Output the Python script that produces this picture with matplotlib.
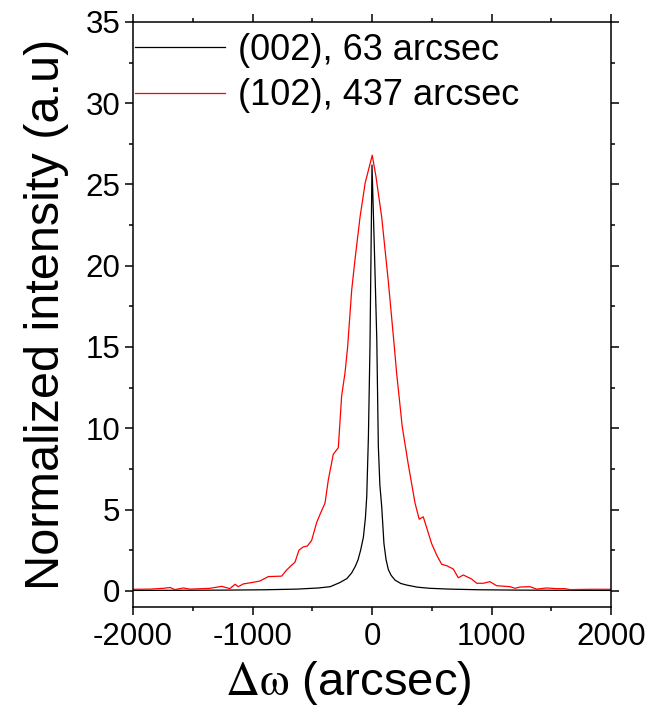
import matplotlib
matplotlib.use("Agg")
import matplotlib.pyplot as plt
from matplotlib.ticker import MultipleLocator

plt.rcParams['font.family'] = ['Liberation Sans', 'DejaVu Sans']
plt.rcParams['mathtext.fontset'] = 'stix'
plt.rcParams['axes.unicode_minus'] = False

# (002) rocking curve
x002 = [-2000, -1500, -1200, -900, -630, -450, -350, -270, -210, -170, -140, -117, -95, -72,
        -55, -44, -30, -17, 0, 20, 40, 53, 66, 81, 100, 118, 137, 160, 192, 240, 290, 380,
        485, 650, 900, 1200, 1500, 2000]
y002 = [0.02, 0.03, 0.04, 0.06, 0.1, 0.17, 0.25, 0.5, 0.75, 1.1, 1.5, 1.9, 2.5, 3.3,
        4.5, 5.8, 9.5, 15, 26.2, 21, 15.5, 8.9, 6.5, 5.2, 2.9, 1.9, 1.3, 0.95, 0.66, 0.45, 0.35, 0.22,
        0.15, 0.1, 0.06, 0.04, 0.03, 0.02]

# (102) rocking curve
x102 = [-2000, -1858, -1746, -1690, -1649, -1579, -1523, -1356, -1258, -1189, -1146, -1119,
        -1077, -994, -938, -868, -756, -714, -672, -645, -611, -575, -541, -505, -463, -435,
        -393, -366, -324, -282, -254, -226, -204, -170, -142, -100, -57, 2, 33, 81, 137, 187,
        206, 253, 303, 360, 395, 429, 499, 541, 583, 625, 680, 722, 764, 834, 876, 931, 987,
        1043, 1155, 1197, 1239, 1322, 1378, 1462, 1545, 1615, 1657, 1824, 2000]
y102 = [0.09, 0.1, 0.15, 0.2, 0.07, 0.17, 0.1, 0.15, 0.27, 0.13, 0.4, 0.25,
        0.42, 0.52, 0.6, 0.87, 0.9, 1.28, 1.58, 1.75, 2.5, 2.7, 2.75, 3.1, 4.2, 4.7,
        5.4, 6.8, 8.4, 8.8, 12.0, 13.4, 15.0, 18.5, 20.4, 23.0, 25.1, 26.8, 25.5, 23.0, 19.0, 15.0,
        13.4, 10.1, 7.8, 5.4, 4.4, 4.55, 2.9, 2.2, 1.63, 1.54, 1.34, 0.8, 0.97, 0.72, 0.46, 0.46, 0.56,
        0.31, 0.25, 0.15, 0.23, 0.25, 0.1, 0.17, 0.13, 0.13, 0.07, 0.09, 0.09]

labels = ["(002), 63 arcsec", "(102), 437 arcsec"]

fig = plt.figure(figsize=(6.52, 7.11), dpi=100)
ax = fig.add_axes([133/652, 1 - 607/711, 478/652, 585/711])

ax.plot(x002, y002, color='black', lw=0.9, label=labels[0])
ax.plot(x102, y102, color='red', lw=0.9, label=labels[1])

ax.set_xlim(-2000, 2000)
ax.set_ylim(-1, 35)
ax.xaxis.set_major_locator(MultipleLocator(1000))
ax.xaxis.set_minor_locator(MultipleLocator(500))
ax.yaxis.set_major_locator(MultipleLocator(5))
ax.yaxis.set_minor_locator(MultipleLocator(2.5))
ax.tick_params(which='both', direction='out', top=True, right=True, width=1.1,
               labelsize=22.5, pad=3)
ax.tick_params(axis='x', pad=5)
ax.tick_params(which='major', length=6)
ax.tick_params(which='minor', length=3)
for s in ax.spines.values():
    s.set_linewidth(1.1)

ax.set_xlabel(r'$\mathrm{\Delta\omega}$ (arcsec)', fontsize=34, labelpad=5)
ax.xaxis.label.set_x(0.45)
ax.set_ylabel('Normalized intensity (a.u)', fontsize=35, labelpad=12)

leg = ax.legend(loc='upper left', bbox_to_anchor=(0.004, 0.982), frameon=False,
                fontsize=26, handlelength=2.5, handletextpad=0.35,
                labelspacing=0.3, borderpad=0, borderaxespad=0)

fig.savefig('out.png', dpi=100)
